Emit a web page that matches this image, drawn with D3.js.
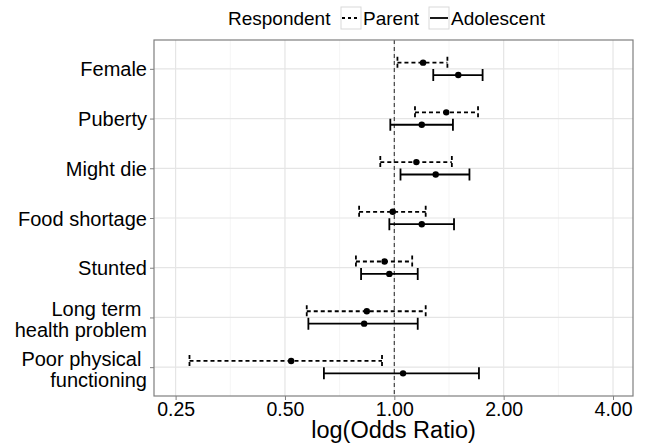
<!DOCTYPE html>
<html>
<head>
<meta charset="utf-8">
<script src="https://cdn.jsdelivr.net/npm/d3@7"></script>
<style>
	body { margin: 0; background: #fff; }
	svg text { font-family: "Liberation Sans", Arial, sans-serif; fill: #000; }
</style>
</head>
<body>
<svg id="plot" width="645" height="445"></svg>
<script>

// odds ratios (parent / adolescent), with CI bounds
const CATEGORIES = ['Female', 'Puberty', 'Might die', 'Food shortage', 'Stunted',
	'Long term \nhealth problem', 'Poor physical \nfunctioning'];
const PARENT_OR = [1.20, 1.39, 1.15, 0.99, 0.94, 0.84, 0.52];
const PARENT_LO = [1.02, 1.14, 0.915, 0.80, 0.784, 0.574, 0.273];
const PARENT_HI = [1.40, 1.70, 1.44, 1.22, 1.12, 1.22, 0.925];
const ADOL_OR = [1.50, 1.19, 1.30, 1.19, 0.969, 0.826, 1.057];
const ADOL_LO = [1.28, 0.975, 1.04, 0.969, 0.81, 0.58, 0.64];
const ADOL_HI = [1.75, 1.45, 1.61, 1.46, 1.16, 1.16, 1.71];
const X_TICKS = [0.25, 0.5, 1, 2, 4];
const X_MINOR = [0.3536, 0.7071, 1.4142, 2.8284];
const RESPONDENTS = ['Parent', 'Adolescent'];

const panel = { left: 154, right: 633, top: 40, bottom: 396 };

const x = d3.scaleLog().base(2).domain([0.218, 4.54]).range([panel.left, panel.right]);
const y = d3.scalePoint().domain(CATEGORIES).range([panel.top, panel.bottom]).padding(0.58);

const dodge = { Parent: -6.2, Adolescent: 6.2 };
const dash = { Parent: '4,3', Adolescent: null };

const rows = [];
CATEGORIES.forEach((c, i) => {
	rows.push({ cat: c, who: 'Parent', or: PARENT_OR[i], lo: PARENT_LO[i], hi: PARENT_HI[i] });
	rows.push({ cat: c, who: 'Adolescent', or: ADOL_OR[i], lo: ADOL_LO[i], hi: ADOL_HI[i] });
});

const svg = d3.select('#plot');

// grid
svg.selectAll('.minor').data(X_MINOR).enter().append('line')
	.attr('x1', d => x(d)).attr('x2', d => x(d))
	.attr('y1', panel.top).attr('y2', panel.bottom)
	.attr('stroke', '#f5f5f5').attr('stroke-width', 1);
svg.selectAll('.majorx').data(X_TICKS).enter().append('line')
	.attr('x1', d => x(d)).attr('x2', d => x(d))
	.attr('y1', panel.top).attr('y2', panel.bottom)
	.attr('stroke', '#e5e5e5').attr('stroke-width', 1.2);
svg.selectAll('.majory').data(CATEGORIES).enter().append('line')
	.attr('x1', panel.left).attr('x2', panel.right)
	.attr('y1', d => y(d)).attr('y2', d => y(d))
	.attr('stroke', '#e5e5e5').attr('stroke-width', 1.2);

// reference line at OR = 1
svg.append('line')
	.attr('x1', x(1)).attr('x2', x(1))
	.attr('y1', panel.top).attr('y2', panel.bottom)
	.attr('stroke', '#444').attr('stroke-width', 1.2)
	.attr('stroke-dasharray', '4,3');

// error bars
const bars = svg.selectAll('.bar').data(rows).enter().append('g')
	.attr('transform', d => `translate(0,${y(d.cat) + dodge[d.who]})`);
bars.append('path')
	.attr('d', d => `M${x(d.lo)},-6V6M${x(d.lo)},0H${x(d.hi)}M${x(d.hi)},-6V6`)
	.attr('fill', 'none').attr('stroke', '#000').attr('stroke-width', 1.8)
	.attr('stroke-dasharray', d => dash[d.who]);
bars.append('circle')
	.attr('cx', d => x(d.or)).attr('cy', 0).attr('r', 3.2)
	.attr('fill', '#000');

// panel border
svg.append('rect')
	.attr('x', panel.left).attr('y', panel.top)
	.attr('width', panel.right - panel.left).attr('height', panel.bottom - panel.top)
	.attr('fill', 'none').attr('stroke', '#7f7f7f').attr('stroke-width', 1.2);

// x axis
const xAxis = d3.axisBottom(x).tickValues(X_TICKS).tickSize(4).tickPadding(2)
	.tickFormat(d3.format('.2f'));
const gx = svg.append('g').attr('transform', `translate(0,${panel.bottom})`).call(xAxis);
gx.select('.domain').remove();
gx.selectAll('.tick line').attr('stroke', '#7f7f7f');
gx.selectAll('.tick text').attr('font-size', 19.5).attr('fill', '#000')
	.attr('font-family', '"Liberation Sans", Arial, sans-serif');

// y axis
const yAxis = d3.axisLeft(y).tickSize(4).tickPadding(3).tickFormat('');
const gy = svg.append('g').attr('transform', `translate(${panel.left},0)`).call(yAxis);
gy.select('.domain').remove();
gy.selectAll('.tick line').attr('stroke', '#7f7f7f');
gy.selectAll('.tick').each(function(d) {
	const lines = d.split('\n');
	const t = d3.select(this).append('text')
		.attr('text-anchor', 'end').attr('font-size', 20)
		.style('white-space', 'pre');
	if (lines.length === 1) {
		t.append('tspan').attr('x', -7).attr('dy', '0.35em').text(lines[0]);
	} else {
		t.append('tspan').attr('x', -7).attr('y', -2).text(lines[0]);
		t.append('tspan').attr('x', -7).attr('y', 19.5).text(lines[1]);
	}
});

// x title
svg.append('text')
	.attr('x', (panel.left + panel.right) / 2).attr('y', 437.5)
	.attr('text-anchor', 'middle').attr('font-size', 23.5)
	.text('log(Odds Ratio)');

// legend
const legend = svg.append('g');
legend.append('text').attr('x', 228).attr('y', 25).attr('font-size', 19).text('Respondent');
const keyX = { Parent: 341, Adolescent: 429 };
const keys = legend.selectAll('.key').data(RESPONDENTS).enter().append('g')
	.attr('transform', d => `translate(${keyX[d]},7)`);
keys.append('rect').attr('width', 20).attr('height', 22)
	.attr('fill', '#fff').attr('stroke', '#d9d9d9').attr('stroke-width', 1);
keys.append('line').attr('x1', 1).attr('x2', 19).attr('y1', 11).attr('y2', 11)
	.attr('stroke', '#000').attr('stroke-width', 1.8)
	.attr('stroke-dasharray', d => d === 'Parent' ? '3,3' : null);
keys.append('text').attr('x', 22).attr('y', 18).attr('font-size', 19).text(d => d);

</script>
</body>
</html>
